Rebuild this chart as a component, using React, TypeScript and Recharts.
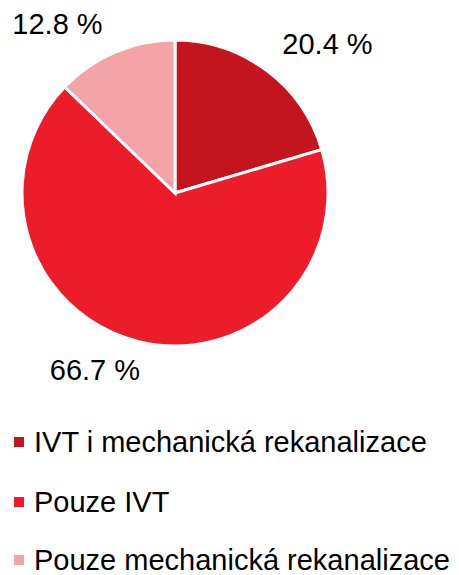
import { PieChart, Pie, Cell, Legend } from "recharts";

const categories = [
  "IVT i mechanická rekanalizace",
  "Pouze IVT",
  "Pouze mechanická rekanalizace",
];
const shares = [20.4, 66.7, 12.8];
const colors = ["#C4151F", "#ED1C2B", "#F4A3A6"];

// label nudges relative to the radial anchor point (Excel-like placement)
const labelNudge = [
  [31, 14],
  [-32, -20],
  [-38, 18],
];

const data = categories.map((name, i) => ({ name, value: shares[i] }));

const FONT = "Arial, 'Liberation Sans', sans-serif";
const RAD = Math.PI / 180;

function renderLabel(props: any) {
  const { cx, cy, midAngle, outerRadius, index, value } = props;
  const r = outerRadius + 50;
  const x = cx + r * Math.cos(-midAngle * RAD) + labelNudge[index][0];
  const y = cy + r * Math.sin(-midAngle * RAD) + labelNudge[index][1];
  return (
    <text
      x={x}
      y={y}
      textAnchor="middle"
      dominantBaseline="central"
      fill="#000"
      fontSize={29}
      fontFamily={FONT}
    >
      {`${value.toFixed(1)} %`}
    </text>
  );
}

function renderLegend() {
  return (
    <div style={{ fontFamily: FONT }}>
      {categories.map((c, i) => (
        <div
          key={c}
          style={{
            height: i < categories.length - 1 ? 60 : 56,
            display: "flex",
            alignItems: "center",
          }}
        >
          <span
            style={{
              display: "inline-block",
              width: 10,
              height: 10,
              marginLeft: 14,
              marginRight: 10,
              background: colors[i],
            }}
          />
          <span
            style={{
              fontSize: 29,
              lineHeight: "26px",
              color: "#000",
              whiteSpace: "nowrap",
            }}
          >
            {c}
          </span>
        </div>
      ))}
    </div>
  );
}

export default function App() {
  return (
    <div style={{ position: "absolute", left: 0, top: 0, background: "#fff" }}>
      <PieChart
        width={459}
        height={575}
        margin={{ top: 0, right: 0, bottom: 0, left: 0 }}
      >
        <Pie
          data={data}
          dataKey="value"
          nameKey="name"
          cx={175}
          cy={193}
          outerRadius={153}
          startAngle={90}
          endAngle={-270}
          stroke="#fff"
          strokeWidth={3}
          labelLine={false}
          label={renderLabel}
          isAnimationActive={false}
        >
          {data.map((d, i) => (
            <Cell key={d.name} fill={colors[i]} />
          ))}
        </Pie>
        <Legend
          content={renderLegend}
          verticalAlign="bottom"
          wrapperStyle={{ left: 0, top: 412, bottom: "auto", width: 459 }}
        />
      </PieChart>
    </div>
  );
}
